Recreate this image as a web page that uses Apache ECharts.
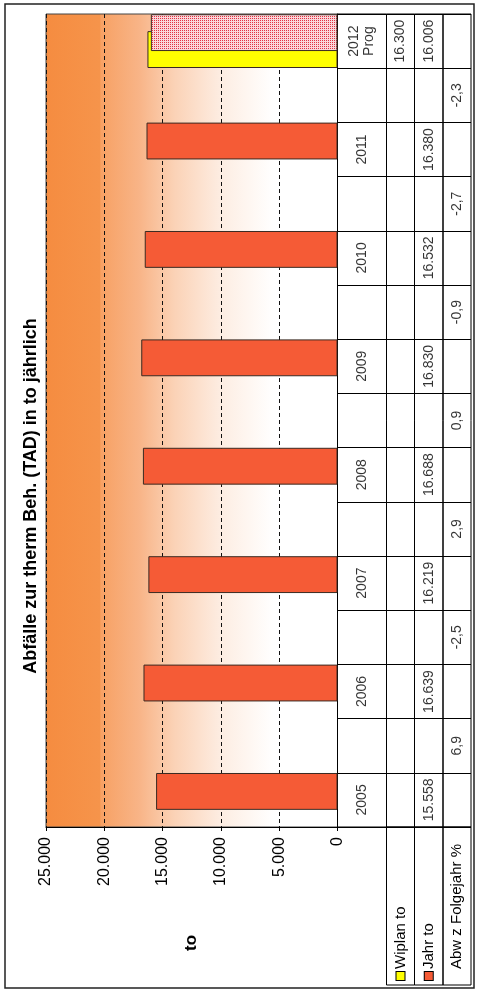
<!DOCTYPE html>
<html><head><meta charset="utf-8">
<script src="https://cdn.jsdelivr.net/npm/echarts@6/dist/echarts.min.js"></script>
<style>html,body{margin:0;padding:0;background:#fff}#c{width:477px;height:993px}</style>
</head><body><div id="c"></div>
<script>
// ---- data ----
const years = ['2005','2006','2007','2008','2009','2010','2011','2012\nProg'];
const wiplan = [null,null,null,null,null,null,null,16300];
const jahr = [15558,16639,16219,16688,16830,16532,16380,16006];
const abw = [6.9,-2.5,2.9,0.9,-0.9,-2.7,-2.3];
const valueTicks = [0,5000,10000,15000,20000,25000];
const rowLabels = ['Wiplan to','Jahr to','Abw z Folgejahr %'];
const titleText = 'Abfälle zur therm Beh. (TAD) in to jährlich';
const axisName = 'to';

// ---- helpers ----
const FONT = 'Liberation Sans, Arial, sans-serif';
const fmtInt = n => String(n).replace(/\B(?=(\d{3})+(?!\d))/g, '.');
const fmtPct = n => n.toFixed(1).replace('.', ',');

// slots: year cells with gap cells in between (bottom -> top)
const slots = [];
years.forEach((y, i) => { slots.push('y' + i); if (i < years.length - 1) slots.push('g' + i); });
const yearSlot = i => 2 * i;

const pc = document.createElement('canvas'); pc.width = 2; pc.height = 2;
const g2 = pc.getContext('2d');
g2.fillStyle = '#fad6da'; g2.fillRect(0, 0, 2, 2);
g2.fillStyle = '#e23342'; g2.fillRect(0, 0, 1, 1);

const jahrData = slots.map(s => {
  if (s[0] !== 'y') return '-';
  const i = +s.slice(1);
  if (i === years.length - 1) return { value: jahr[i], itemStyle: { color: { image: pc, repeat: 'repeat' } } };
  return jahr[i];
});
const wiplanData = slots.map(s => {
  if (s[0] !== 'y') return '-';
  const v = wiplan[+s.slice(1)];
  return v == null ? '-' : v;
});

// geometry
const T = 14, H = 813;
const PL = 46, PR = 337.5;
const cols = [337.5, 386.5, 414.5, 443, 471];
const HEAD_H = 158;

const grids = [{ left: PL, top: T, width: PR - PL, height: H, show: true, borderColor: '#444', borderWidth: 1,
  backgroundColor: new echarts.graphic.LinearGradient(0, 0, 1, 0, [
    { offset: 0, color: '#F58C40' }, { offset: 0.185, color: '#F6944B' }, { offset: 0.19, color: '#F7A164' },
    { offset: 0.32, color: '#F8B487' }, { offset: 0.44, color: '#FBD2B6' }, { offset: 0.6, color: '#FDEDE2' },
    { offset: 0.78, color: '#FFFFFF' }, { offset: 1, color: '#FFFFFF' }]) }];
for (let c = 0; c < 4; c++) grids.push({ left: cols[c], top: T, width: cols[c + 1] - cols[c], height: H, show: true, borderColor: '#000', borderWidth: 1, backgroundColor: 'transparent' });
for (let c = 1; c < 4; c++) grids.push({ left: cols[c], top: T + H, width: cols[c + 1] - cols[c], height: HEAD_H, show: true, borderColor: '#000', borderWidth: 1, backgroundColor: 'transparent' });

const headerRich = {
  k1: { width: 8, height: 8, backgroundColor: '#ffff00', borderColor: '#000', borderWidth: 1 },
  k2: { width: 8, height: 8, backgroundColor: '#F55B36', borderColor: '#000', borderWidth: 1 },
  e: { width: 8, height: 8 },
  t: { fontSize: 15, fontFamily: FONT, color: '#000', padding: [0, 0, 0, 3] }
};
const headerNames = ['{k1|}{t|' + rowLabels[0] + '}', '{k2|}{t|' + rowLabels[1] + '}', '{e|}{t|' + rowLabels[2] + '}'];

const xAxes = [{
  gridIndex: 0, type: 'value', inverse: true, min: valueTicks[0], max: valueTicks[valueTicks.length - 1], interval: valueTicks[1] - valueTicks[0],
  axisLine: { show: true, onZero: false, lineStyle: { color: '#000', width: 1 } },
  axisTick: { show: true, length: 4, lineStyle: { color: '#000' } },
  axisLabel: { rotate: 90, fontSize: 16, margin: 10, color: '#000', fontFamily: FONT, formatter: v => fmtInt(v) },
  splitLine: { show: true, lineStyle: { type: [4, 3], color: '#111', width: 1 } },
  name: axisName, nameLocation: 'middle', nameGap: 116, nameRotate: 90,
  nameTextStyle: { fontWeight: 'bold', fontSize: 17, fontFamily: FONT, color: '#000', align: 'center', verticalAlign: 'middle' }
}];
const yAxes = [{
  gridIndex: 0, type: 'category', data: slots, position: 'right',
  axisLine: { show: true, onZero: false, lineStyle: { color: '#000' } }, axisTick: { show: false }, axisLabel: { show: false }, splitLine: { show: false }
}];
for (let c = 0; c < 4; c++) {
  xAxes.push({ gridIndex: c + 1, type: 'value', min: 0, max: 1, show: c > 0,
    axisLine: { show: false }, axisTick: { show: false }, axisLabel: { show: false }, splitLine: { show: false },
    name: c > 0 ? headerNames[c - 1] : '', nameLocation: 'middle', nameGap: 153, nameRotate: 90,
    nameTextStyle: { align: 'left', verticalAlign: 'middle', fontSize: 15, fontFamily: FONT, color: '#000', rich: headerRich } });
  yAxes.push({ gridIndex: c + 1, type: 'category', data: slots,
    axisLine: { show: false }, axisTick: { show: false }, axisLabel: { show: false },
    splitLine: { show: true, interval: 0, lineStyle: { color: '#000', width: 1 } } });
}
for (let c = 0; c < 3; c++) {
  xAxes.push({ gridIndex: 5 + c, type: 'value', show: false, min: 0, max: 1 });
  yAxes.push({ gridIndex: 5 + c, type: 'value', show: false, min: 0, max: 1 });
}

const cellLabel = { show: true, position: 'inside', rotate: 90, fontSize: 14, fontFamily: FONT, color: '#000', lineHeight: 15, align: 'center', verticalAlign: 'middle' };
function cellSeries(ci, items) {
  return { type: 'scatter', xAxisIndex: ci, yAxisIndex: ci, symbolSize: 0, silent: true,
    data: items.map(it => ({ value: [0.5, it[0]], label: { formatter: it[1] } })), label: cellLabel };
}

const option = {
  animation: false,
  backgroundColor: '#fff',
  grid: grids,
  xAxis: xAxes,
  yAxis: yAxes,
  graphic: [
    { type: 'rect', z: -10, shape: { x: 5, y: 4, width: 469, height: 984 }, style: { fill: 'none', stroke: '#222', lineWidth: 1.5 } },
    { type: 'text', x: 31, y: 496, rotation: Math.PI / 2,
      style: { text: titleText, font: 'bold 18px ' + FONT, fill: '#000', align: 'center', verticalAlign: 'middle', textAlign: 'center', textVerticalAlign: 'middle' } }
  ],
  series: [
    { name: 'Jahr to', type: 'bar', xAxisIndex: 0, yAxisIndex: 0, data: jahrData, z: 3,
      barWidth: '68%', barGap: '-54%',
      itemStyle: { color: '#F55B36', borderColor: '#3a2a22', borderWidth: 1 } },
    { name: 'Wiplan to', type: 'bar', xAxisIndex: 0, yAxisIndex: 0, data: wiplanData, z: 2,
      barWidth: '68%', barGap: '-54%',
      itemStyle: { color: '#FFFF00', borderColor: '#3a2a22', borderWidth: 1 } },
    cellSeries(1, years.map((y, i) => [yearSlot(i), y])),
    cellSeries(2, wiplan.map((v, i) => v == null ? null : [yearSlot(i), fmtInt(v)]).filter(Boolean)),
    cellSeries(3, jahr.map((v, i) => [yearSlot(i), fmtInt(v)])),
    cellSeries(4, abw.map((v, i) => [yearSlot(i) + 1, fmtPct(v)]))
  ]
};
const chart = echarts.init(document.getElementById('c'), null, { renderer: 'canvas' });
chart.setOption(option);
</script>
</body></html>
